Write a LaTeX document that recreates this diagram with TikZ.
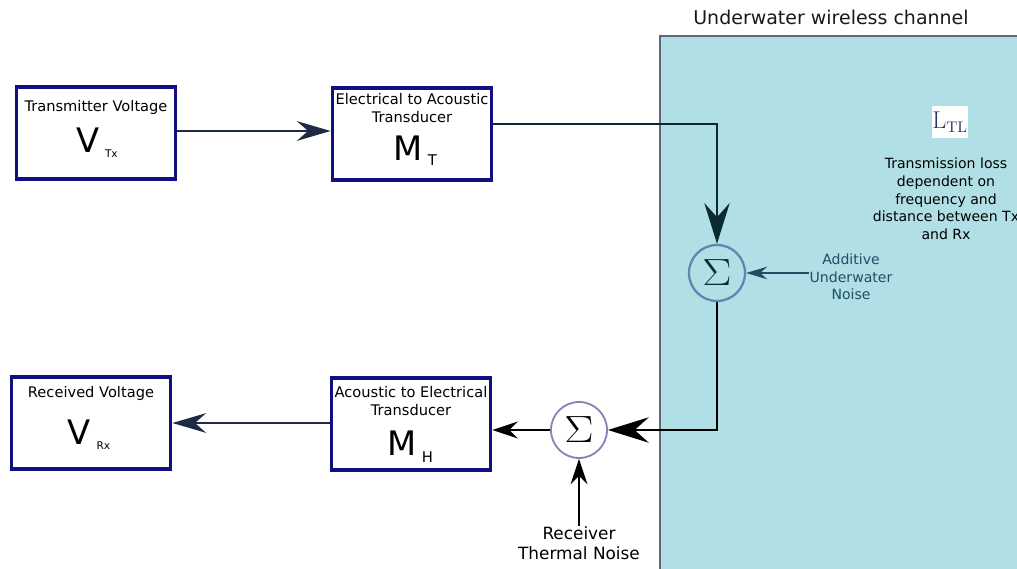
\documentclass[tikz,border=0pt]{standalone}
\usepackage[no-math]{fontspec}
\setmainfont{DejaVu Sans}
\usetikzlibrary{arrows.meta, positioning}
\definecolor{borderblue}{RGB}{16,16,128}
\definecolor{chanfill}{HTML}{B0E0E6}
\definecolor{chanedge}{HTML}{5E6A7C}
\definecolor{arrownavy}{HTML}{1F2A44}
\definecolor{deepteal}{HTML}{0B2B30}
\definecolor{noiseteal}{HTML}{1F4E63}
\definecolor{sumedge}{HTML}{5A88B0}
\definecolor{sumlilac}{HTML}{8A82B4}
\definecolor{ltlblue}{HTML}{2B3566}
\newcommand{\sumsign}{\scalebox{1.5}[1.3]{$\Sigma$}}

\begin{document}
\begin{tikzpicture}[
        x=0.025cm, y=-0.025cm,
        box/.style = {draw=borderblue, line width=2.5pt, minimum width=3.98cm, minimum height=2.3cm, inner sep=0pt},
        lbl/.style = {font=\fontsize{10.4}{12.2}\selectfont, align=center, inner sep=0pt},
        bigsym/.style = {font=\fontsize{24}{24}\selectfont, inner sep=0pt, anchor=base},
        sumnode/.style = {circle, minimum size=1.4cm, inner sep=0pt, font=\fontsize{20}{20}\selectfont},
        note/.style = {font=\fontsize{10}{12.6}\selectfont, align=center, inner sep=0pt},
        sigarrow/.style = {draw=arrownavy, line width=1.5pt, -{Stealth[length=24pt, width=14pt, inset=8pt]}},
        chanarrow/.style = {line width=1.8pt, -{Stealth[length=29pt, width=18pt, inset=10pt]}},
        thinarrow/.style = {draw=black, line width=1.2pt, -{Stealth[length=18pt, width=12pt, inset=6pt]}}
    ]
        \useasboundingbox (0,0) rectangle (1017,569);

        % Channel
        \draw [draw=chanedge, fill=chanfill, line width=1.8pt] (660,36) rectangle (1040,600);
        \node (title) [font=\fontsize{13.5}{16}\selectfont, text=black!90] at (831,17) {Underwater wireless channel};
        \node (ltl) [fill=white, minimum width=0.83cm, minimum height=0.8cm, inner sep=0pt, text=ltlblue, font=\fontsize{16}{16}\selectfont] at (950,122) {$\mathrm{L}_{\mathrm{TL}}$};
        \node (loss) [note] at (946,199) {Transmission loss\\dependent on\\frequency and\\distance between Tx\\and Rx};

        % Transmitter side
        \node (tv) [box] at (96,133) {};
        \node (tvlbl) [lbl] at (96,107) {Transmitter Voltage};
        \node (tvsym) [bigsym] at (97,153) {V\hspace{4pt}\raisebox{-3pt}{\fontsize{7.5}{7.5}\selectfont Tx}};

        \node (eat) [box] at (412,134) {};
        \node (eatlbl) [lbl] at (412,108) {Electrical to Acoustic\\Transducer};
        \node (eatsym) [bigsym] at (415,161) {M\hspace{4pt}\raisebox{-3pt}{\fontsize{10.5}{10.5}\selectfont T}};

        % Receiver side
        \node (rv) [box] at (91,423) {};
        \node (rvlbl) [lbl] at (91,393) {Received Voltage};
        \node (rvsym) [bigsym] at (89,444) {V\hspace{4pt}\raisebox{-4pt}{\fontsize{7.5}{7.5}\selectfont Rx}};

        \node (aet) [box] at (411,424) {};
        \node (aetlbl) [lbl] at (411,401) {Acoustic to Electrical\\Transducer};
        \node (aetsym) [bigsym] at (410,455) {M\hspace{4pt}\raisebox{-5pt}{\fontsize{10.5}{10.5}\selectfont H}};

        % Summing junctions
        \node (sumch) [sumnode, draw=sumedge, line width=1.6pt, text=deepteal] at (717,273) {\sumsign};
        \node (sumrx) [sumnode, draw=sumlilac, line width=1.3pt, fill=white] at (579,430) {\sumsign};

        % Noise sources
        \node (addnoise) [note, text=noiseteal, font=\fontsize{10}{12.4}\selectfont] at (851,277) {Additive\\Underwater\\Noise};
        \node (thnoise) [note, font=\fontsize{12}{14.2}\selectfont] at (579,543) {Receiver\\Thermal Noise};

        % Arrows
        \draw [sigarrow] (tv.east |- 0,131) -- (eat.west |- 0,131);
        \draw [chanarrow, draw=deepteal] (eat.east |- 0,124) -| (sumch.north);
        \draw [draw=noiseteal, line width=1pt, -{Stealth[length=15pt, width=9pt, inset=5pt]}] (addnoise.west |- sumch) -- (sumch.east);
        \draw [chanarrow, draw=black] (sumch.south) |- (sumrx.east);
        \draw [thinarrow] (sumrx.west) -- (aet.east |- sumrx);
        \draw [thinarrow] (thnoise.north) -- (sumrx.south);
        \draw [sigarrow] (aet.west |- 0,423) -- (rv.east |- 0,423);

    \end{tikzpicture}
\end{document}
